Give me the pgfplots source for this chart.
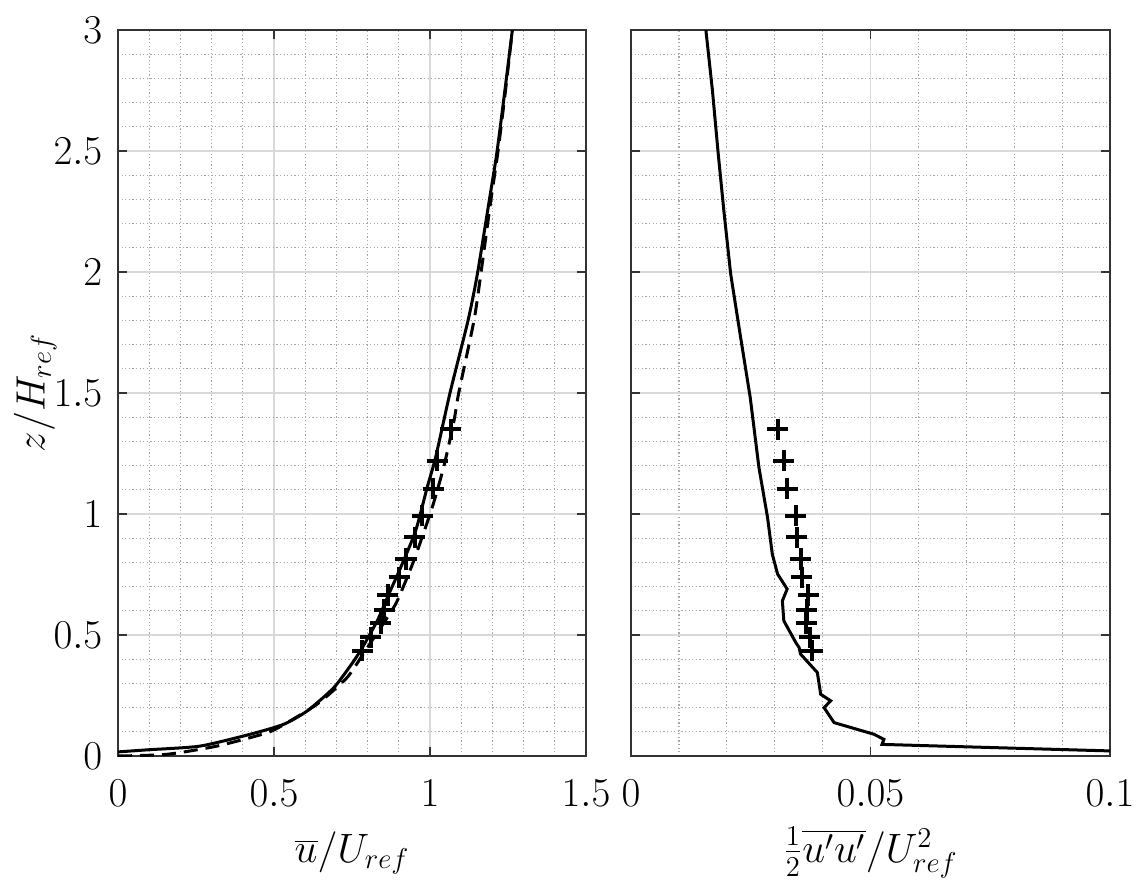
\RequirePackage{fix-cm}
\documentclass[border=0pt]{standalone}
\usepackage{pgfplots}
\pgfplotsset{compat=1.18}

\pgfplotsset{
  mystyle/.style={
    scale only axis,
    axis line style={line width=0.9pt, black!80},
    every tick/.style={black!80, line width=0.8pt},
    tick align=inside,
    major tick length=4.5pt,
    minor tick length=0pt,
    grid=both,
    major grid style={line width=0.6pt, black!15},
    minor grid style={line width=0.6pt, black!35, dash pattern=on 0.6pt off 1.2pt},
    ymin=0, ymax=3,
    ytick={0,0.5,1,1.5,2,2.5,3},
    minor y tick num=4,
    minor x tick num=4,
    scaled ticks=false,
    tick label style={font=\fontsize{20.5}{24}\selectfont},
    label style={font=\fontsize{20.5}{24}\selectfont},
    xticklabel style={anchor=north, yshift=-5pt},
    yticklabel style={anchor=east, xshift=-1pt},
    clip=true,
  }
}

\begin{document}
\fontsize{20}{24}\selectfont
\begin{tikzpicture}[x=1pt,y=1pt]
\path[use as bounding box] (0,0) rectangle (572.5,440);

\begin{axis}[mystyle,
  at={(59pt,62pt)}, anchor=south west,
  width=234pt, height=363pt,
  xmin=0, xmax=1.5,
  xtick={0,0.5,1,1.5},
  xticklabels={$0$,$0.5$,$1$,$1.5$},
  yticklabels={$0$,$0.5$,$1$,$1.5$,$2$,$2.5$,$3$},
  xlabel={$\overline{u}/U_{ref}$},
  ylabel={$z/H_{ref}$},
  xlabel style={at={(axis description cs:0.5,-0.133)}, anchor=center},
  ylabel style={at={(axis description cs:-0.177,0.5)}, anchor=center},
]
\addplot[black, line width=1.5pt, smooth, tension=0.4] coordinates {
(0,0.017) (0.10,0.026) (0.263,0.041) (0.424,0.090) (0.531,0.131)
(0.606,0.186) (0.692,0.283) (0.756,0.393) (0.777,0.434) (0.831,0.559)
(0.868,0.669) (0.906,0.779) (0.954,0.931) (0.991,1.110) (1.018,1.234)
(1.064,1.500) (1.122,1.800) (1.152,1.993) (1.190,2.296) (1.214,2.490)
(1.240,2.750) (1.264,3.000)
};
\addplot[black, line width=1.5pt, dash pattern=on 7pt off 4pt, smooth, tension=0.4] coordinates {
(0,0.000) (0.156,0.007) (0.317,0.041) (0.478,0.096) (0.542,0.138)
(0.638,0.214) (0.734,0.324) (0.790,0.430) (0.842,0.531) (0.863,0.572)
(0.895,0.641) (0.948,0.807) (1.007,1.027) (1.045,1.200) (1.077,1.386)
(1.092,1.500) (1.141,1.800) (1.163,1.993) (1.195,2.296) (1.217,2.490)
(1.242,2.750) (1.264,3.000)
};
\addplot[only marks, mark=+, mark size=5.3pt, mark options={line width=2pt, black}] coordinates {
(1.066,1.350) (1.023,1.220) (1.010,1.105) (0.975,0.993) (0.951,0.903)
(0.923,0.814) (0.901,0.738) (0.865,0.665) (0.853,0.603) (0.842,0.550)
(0.810,0.490) (0.783,0.435)
};
\end{axis}

\begin{axis}[mystyle,
  at={(315.5pt,62pt)}, anchor=south west,
  width=239.5pt, height=363pt,
  xmin=0, xmax=0.1,
  xtick={0,0.05,0.1},
  xticklabels={$0$,$0.05$,$0.1$},
  yticklabels={},
  xlabel={$\frac{1}{2}\overline{u'u'}/U_{ref}^2$},
  xlabel style={at={(axis description cs:0.5,-0.133)}, anchor=center},
]
\addplot[black, line width=1.5pt] coordinates {
(0.01563,3.0) (0.0170,2.75) (0.0182,2.49) (0.0194,2.25) (0.0208,1.993)
(0.0228,1.74) (0.0249,1.48) (0.0267,1.193)
(0.0285,0.986) (0.0295,0.834) (0.0306,0.752) (0.0326,0.690) (0.0316,0.641)
(0.0319,0.559) (0.0344,0.469) (0.0351,0.448) (0.0354,0.421) (0.0389,0.345)
(0.0396,0.255) (0.0417,0.228) (0.0403,0.200) (0.0424,0.138) (0.0507,0.090)
(0.0528,0.069) (0.0524,0.048) (0.0646,0.041) (0.1,0.021)
};
\addplot[only marks, mark=+, mark size=5.3pt, mark options={line width=2pt, black}] coordinates {
(0.0306,1.350) (0.0319,1.220) (0.0326,1.105) (0.0344,0.993) (0.0346,0.903)
(0.0354,0.814) (0.0356,0.738) (0.0370,0.665) (0.0367,0.603) (0.0366,0.550)
(0.0373,0.490) (0.0378,0.435)
};
\end{axis}
\end{tikzpicture}
\end{document}
